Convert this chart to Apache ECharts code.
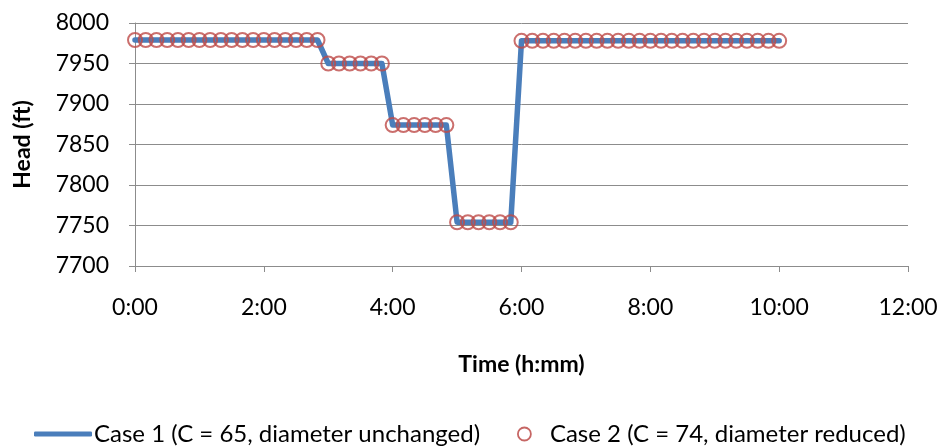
<!DOCTYPE html>
<html>
<head>
<meta charset="utf-8">
<script src="https://cdn.jsdelivr.net/npm/echarts@6/dist/echarts.min.js"></script>
<style>
  html, body { margin: 0; padding: 0; background: #fff; }
  #chart { width: 942px; height: 447px; }
</style>
</head>
<body>
<div id="chart"></div>
<script>
// Elapsed time of each sample, minutes
const timeMinutes = [
  0, 10, 20, 30, 40, 50, 60, 70, 80, 90, 100, 110, 120, 130, 140, 150, 160, 170,
  180, 190, 200, 210, 220, 230,
  240, 250, 260, 270, 280, 290,
  300, 310, 320, 330, 340, 350,
  360, 370, 380, 390, 400, 410, 420, 430, 440, 450, 460, 470, 480,
  490, 500, 510, 520, 530, 540, 550, 560, 570, 580, 590, 600
];

// Hydraulic head, ft
const case1Head = [
  7979, 7979, 7979, 7979, 7979, 7979, 7979, 7979, 7979, 7979, 7979, 7979, 7979, 7979, 7979, 7979, 7979, 7979,
  7950, 7950, 7950, 7950, 7950, 7950,
  7874, 7874, 7874, 7874, 7874, 7874,
  7754, 7754, 7754, 7754, 7754, 7754,
  7978, 7978, 7978, 7978, 7978, 7978, 7978, 7978, 7978, 7978, 7978, 7978, 7978,
  7978, 7978, 7978, 7978, 7978, 7978, 7978, 7978, 7978, 7978, 7978, 7978
];
const case2Head = [
  7979, 7979, 7979, 7979, 7979, 7979, 7979, 7979, 7979, 7979, 7979, 7979, 7979, 7979, 7979, 7979, 7979, 7979,
  7950, 7950, 7950, 7950, 7950, 7950,
  7874, 7874, 7874, 7874, 7874, 7874,
  7754, 7754, 7754, 7754, 7754, 7754,
  7978, 7978, 7978, 7978, 7978, 7978, 7978, 7978, 7978, 7978, 7978, 7978, 7978,
  7978, 7978, 7978, 7978, 7978, 7978, 7978, 7978, 7978, 7978, 7978, 7978
];

const seriesNames = [
  'Case 1 (C = 65, diameter unchanged)',
  'Case 2 (C = 74, diameter reduced)'
];

const FONT = 'Lato, "Open Sans", sans-serif';
const GRID_GRAY = '#8c8c8c';

const toPairs = (vals) => vals.map((v, i) => [timeMinutes[i] / 60, v]);

const chart = echarts.init(document.getElementById('chart'), null, { renderer: 'canvas' });
chart.setOption({
  animation: false,
  backgroundColor: '#fff',
  textStyle: { fontFamily: FONT },
  grid: { left: 135, right: 34, top: 23, bottom: 181, containLabel: false },
  xAxis: {
    type: 'value',
    min: 0, max: 12, interval: 2,
    name: 'Time (h:mm)',
    nameLocation: 'middle',
    nameGap: 87,
    nameTextStyle: { fontFamily: FONT, fontSize: 23, fontWeight: 'bold', color: '#000' },
    axisLine: { show: true, lineStyle: { color: GRID_GRAY, width: 1 } },
    axisTick: { show: true, length: 6, lineStyle: { color: GRID_GRAY } },
    axisLabel: {
      margin: 30, fontFamily: FONT, fontSize: 23, color: '#000',
      formatter: (v) => v + ':00'
    },
    splitLine: { show: false }
  },
  yAxis: {
    type: 'value',
    min: 7700, max: 8000, interval: 50,
    name: 'Head (ft)',
    nameLocation: 'middle',
    nameGap: 101,
    nameRotate: 90,
    nameTextStyle: { fontFamily: FONT, fontSize: 23, fontWeight: 'bold', color: '#000' },
    axisLine: { show: true, lineStyle: { color: GRID_GRAY, width: 1 } },
    axisTick: { show: true, length: 6, lineStyle: { color: GRID_GRAY } },
    axisLabel: {
      margin: 26, fontFamily: FONT, fontSize: 23, color: '#000',
      formatter: (v) => String(v)
    },
    splitLine: { show: true, lineStyle: { color: GRID_GRAY, width: 1 } }
  },
  legend: [
    {
      data: [{ name: seriesNames[0], icon: 'roundRect' }],
      left: 29, top: 417,
      itemWidth: 58, itemHeight: 5,
      itemGap: 0,
      textStyle: { fontFamily: FONT, fontSize: 24, color: '#000', padding: [0, 0, 0, -3] }
    },
    {
      data: [{ name: seriesNames[1], icon: 'circle',
               itemStyle: { color: 'rgba(0,0,0,0)', borderColor: '#b8403d', borderWidth: 1.8 } }],
      left: 512, top: 417,
      itemWidth: 13, itemHeight: 13,
      textStyle: { fontFamily: FONT, fontSize: 24, color: '#000', padding: [0, 0, 0, 14] }
    }
  ],
  series: [
    {
      name: seriesNames[0],
      type: 'line',
      data: toPairs(case1Head),
      showSymbol: false,
      symbol: 'none',
      color: '#4a7ebb',
      lineStyle: { color: '#4a7ebb', width: 5.5, cap: 'round', join: 'round' },
      z: 2
    },
    {
      name: seriesNames[1],
      type: 'scatter',
      data: toPairs(case2Head),
      symbol: 'circle',
      symbolSize: 14,
      color: '#be4b48',
      itemStyle: { color: 'rgba(0,0,0,0)', borderColor: '#be4b48', borderWidth: 2 },
      z: 3
    }
  ]
});
</script>
</body>
</html>
